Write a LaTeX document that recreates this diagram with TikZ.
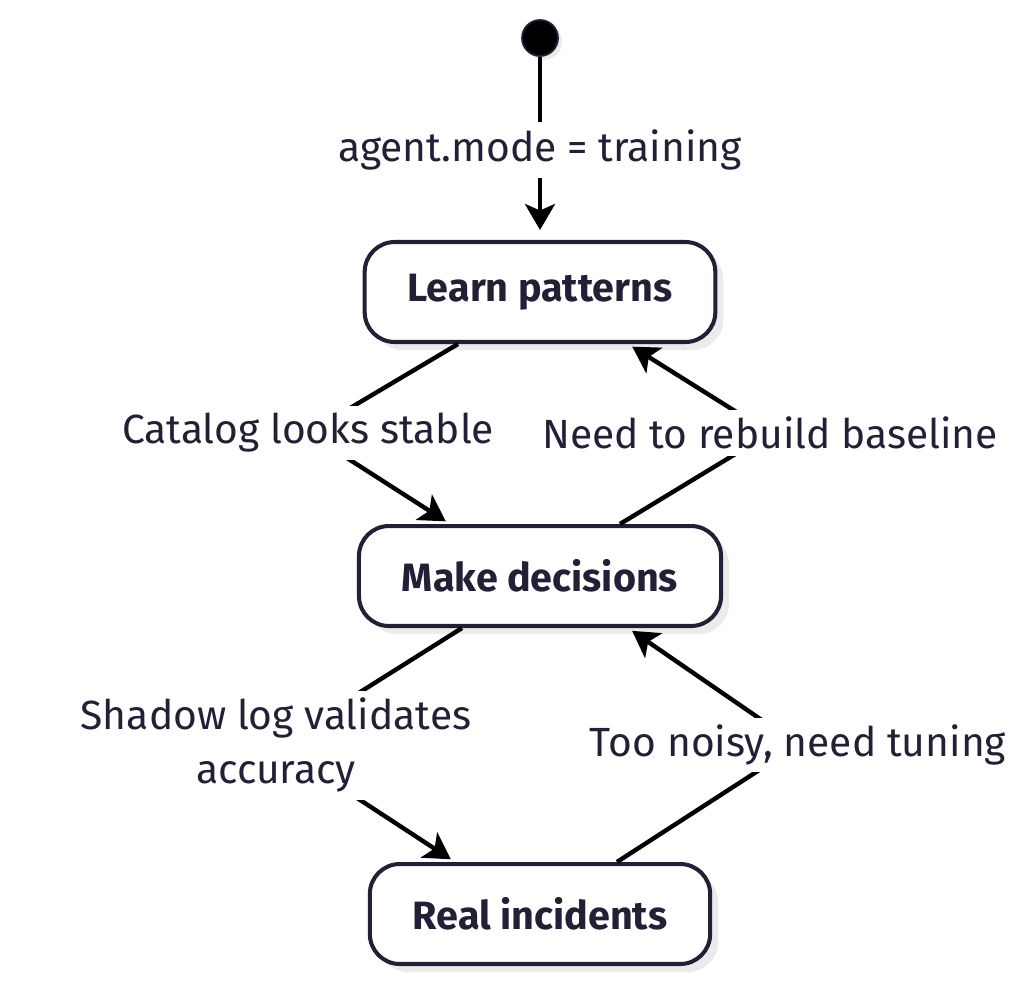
\documentclass[tikz,border=0pt]{standalone}
\usepackage{fontspec}
\setmainfont{Fira Sans}
\usetikzlibrary{arrows.meta,shadows}
\definecolor{ink}{HTML}{222036}
\definecolor{shade}{HTML}{EBEBEB}
\pgfdeclarelayer{fg}
\pgfsetlayers{main,fg}
\tikzset{
  state/.style={draw=ink, line width=2.3pt, fill=white, rounded corners=0.6cm,
    minimum height=2cm, inner xsep=0.86cm, text=ink,
    font=\bfseries\fontsize{22.5}{26}\selectfont,
    drop shadow={fill=shade, opacity=1, shadow xshift=0.16cm, shadow yshift=-0.16cm}},
  lbl/.style={fill=white, text=ink, inner sep=4pt, align=center,
    font=\fontsize{23.2}{31}\selectfont},
  arr/.style={line width=2.5pt, shorten >=0.1cm, -{Stealth[length=0.52cm,width=0.6cm,inset=0.13cm]}},
}
\begin{document}
\begin{tikzpicture}[x=0.02cm,y=-0.02cm]
  \useasboundingbox (0,0) rectangle (1024,985);

  % edge labels
  \begin{pgfonlayer}{fg}
    \node[lbl] (mode) at (540,150) {agent.mode = training};
    \node[lbl] (stable) at (308,433) {Catalog looks stable};
    \node[lbl] (rebuild) at (770,433) {Need to rebuild baseline};
    \node[lbl] (shadowlog) at (276,745) {Shadow log validates\\accuracy};
    \node[lbl] (noisy) at (798,745) {Too noisy, need tuning};
  \end{pgfonlayer}

  % states
  \node[circle, fill=black, draw=ink, line width=1pt, minimum size=0.72cm,
    drop shadow={fill=shade, opacity=1, shadow xshift=0.08cm, shadow yshift=-0.08cm}] (init) at (540,38) {};
  \node[state] (learn) at (540,292) {Learn patterns};
  \node[state] (make) at (540,576) {Make decisions};
  \node[state] (real) at (540,914) {Real incidents};

  % transitions
  \draw[arr, shorten >=0.2cm] (init) -- (mode) -- (learn);
  \draw[arr] ([xshift=-1.64cm]learn.south) -- (stable.center) -- ([xshift=-1.8cm]make.north);
  \draw[arr] ([xshift=1.6cm]make.north) -- (rebuild.center) -- ([xshift=1.76cm]learn.south);
  \draw[arr] ([xshift=-1.56cm]make.south) -- (shadowlog.center) -- ([xshift=-1.7cm]real.north);
  \draw[arr] ([xshift=1.54cm]real.north) -- (noisy.center) -- ([xshift=1.76cm]make.south);
\end{tikzpicture}
\end{document}
